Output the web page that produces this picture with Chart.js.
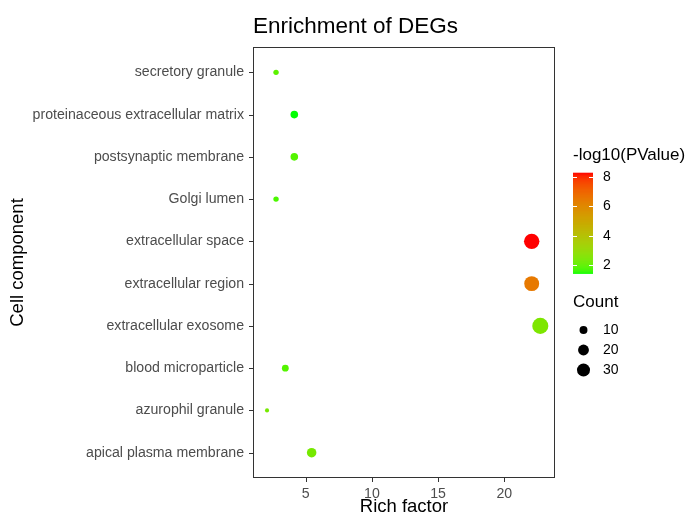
<!DOCTYPE html>
<html>
<head>
<meta charset="utf-8">
<script src="https://cdn.jsdelivr.net/npm/chart.js@4.4.0/dist/chart.umd.min.js"></script>
<style>
  body { margin: 0; background: #fff; }
  #wrap { width: 697px; height: 522px; }
</style>
</head>
<body>
<div id="wrap"><canvas id="dotChart" width="697" height="522"></canvas></div>
<script>
// GO terms, top to bottom
var terms = ['secretory granule', 'proteinaceous extracellular matrix', 'postsynaptic membrane', 'Golgi lumen',
  'extracellular space', 'extracellular region', 'extracellular exosome', 'blood microparticle',
  'azurophil granule', 'apical plasma membrane'];
var richFactor = [2.76, 4.14, 4.14, 2.76, 22.07, 22.07, 22.72, 3.46, 2.08, 5.45];
var geneCount = [4, 9, 9, 4, 43, 40, 47, 7, 2, 15];
var logP = [2.0, 1.44, 1.9, 1.8, 8.27, 6.5, 2.53, 1.9, 2.4, 2.4];
var xTicks = [5, 10, 15, 20];
var colorTicks = [2, 4, 6, 8];
var countTicks = [10, 20, 30];

var FONT = '"Liberation Sans", Arial, sans-serif';

// --- colour scale: green -> red, interpolated in Lab like ggplot ---
function toLin(c) { c /= 255; return c <= 0.04045 ? c / 12.92 : Math.pow((c + 0.055) / 1.055, 2.4); }
function fromLin(c) { var v = c <= 0.0031308 ? 12.92 * c : 1.055 * Math.pow(c, 1 / 2.4) - 0.055; return Math.max(0, Math.min(255, Math.round(v * 255))); }
function rgbToLab(r, g, b) {
  r = toLin(r); g = toLin(g); b = toLin(b);
  var x = (0.4124 * r + 0.3576 * g + 0.1805 * b) / 0.95047;
  var y = (0.2126 * r + 0.7152 * g + 0.0722 * b);
  var z = (0.0193 * r + 0.1192 * g + 0.9505 * b) / 1.08883;
  var f = function (t) { return t > 0.008856 ? Math.cbrt(t) : 7.787 * t + 16 / 116; };
  var fx = f(x), fy = f(y), fz = f(z);
  return [116 * fy - 16, 500 * (fx - fy), 200 * (fy - fz)];
}
function labToRgb(L, a, b) {
  var fy = (L + 16) / 116, fx = fy + a / 500, fz = fy - b / 200;
  var inv = function (t) { return t * t * t > 0.008856 ? t * t * t : (t - 16 / 116) / 7.787; };
  var x = inv(fx) * 0.95047, y = inv(fy), z = inv(fz) * 1.08883;
  var r = 3.2406 * x - 1.5372 * y - 0.4986 * z;
  var g = -0.9689 * x + 1.8758 * y + 0.0415 * z;
  var bl = 0.0557 * x - 0.2040 * y + 1.0570 * z;
  return 'rgb(' + fromLin(r) + ',' + fromLin(g) + ',' + fromLin(bl) + ')';
}
var labLow = rgbToLab(0, 255, 0), labHigh = rgbToLab(255, 0, 0);
var pMin = Math.min.apply(null, logP), pMax = Math.max.apply(null, logP);
function colorFor(v) {
  var t = (v - pMin) / (pMax - pMin);
  return labToRgb(labLow[0] + t * (labHigh[0] - labLow[0]),
                  labLow[1] + t * (labHigh[1] - labLow[1]),
                  labLow[2] + t * (labHigh[2] - labLow[2]));
}
// point size from count (diameter in px)
function diamFor(c) { return 1.0 + 2.2 * Math.sqrt(c); }

var points = terms.map(function (t, i) {
  return { x: richFactor[i], y: i, r: diamFor(geneCount[i]) / 2 };
});

// title, panel frame, tick marks and the two legends
var extras = {
  id: 'extras',
  afterDraw: function (chart) {
    var ctx = chart.ctx, a = chart.chartArea;
    var L = Math.round(a.left), T = Math.round(a.top), R = Math.round(a.right), B = Math.round(a.bottom);
    ctx.save();
    ctx.strokeStyle = '#333333';
    ctx.lineWidth = 1;
    ctx.strokeRect(L + 0.5, T + 0.5, R - L - 1, B - T - 1);

    // tick marks
    ctx.beginPath();
    xTicks.forEach(function (v) {
      var px = Math.round(chart.scales.x.getPixelForValue(v)) + 0.5;
      ctx.moveTo(px, B); ctx.lineTo(px, B + 4);
    });
    terms.forEach(function (t, i) {
      var py = Math.round(chart.scales.y.getPixelForValue(i)) + 0.5;
      ctx.moveTo(L, py); ctx.lineTo(L - 4, py);
    });
    ctx.stroke();

    ctx.fillStyle = '#000';
    ctx.font = '22.5px ' + FONT;
    ctx.textBaseline = 'alphabetic';
    ctx.textAlign = 'left';
    ctx.fillText('Enrichment of DEGs', 253, 33);

    // colour bar
    var bx = 573, bw = 20, bTop = 172.7, bBot = 273.3;
    ctx.font = '17px ' + FONT;
    ctx.textBaseline = 'middle';
    ctx.fillText('-log10(PValue)', 573, 155);
    var steps = 100;
    for (var s = 0; s < steps; s++) {
      var v = pMin + (pMax - pMin) * (s + 0.5) / steps;
      ctx.fillStyle = colorFor(v);
      var y0 = bBot - (bBot - bTop) * (s + 1) / steps;
      ctx.fillRect(bx, y0, bw, (bBot - bTop) / steps + 0.6);
    }
    ctx.font = '14px ' + FONT;
    colorTicks.forEach(function (v) {
      var y = Math.round(bBot - (v - pMin) / (pMax - pMin) * (bBot - bTop)) + 0.5;
      ctx.strokeStyle = '#ffffff';
      ctx.beginPath();
      ctx.moveTo(bx, y); ctx.lineTo(bx + 4, y);
      ctx.moveTo(bx + bw - 4, y); ctx.lineTo(bx + bw, y);
      ctx.stroke();
      ctx.fillStyle = '#000';
      ctx.fillText(String(v), 603, y);
    });

    // size legend
    ctx.font = '17px ' + FONT;
    ctx.fillText('Count', 573, 302.5);
    ctx.font = '14px ' + FONT;
    countTicks.forEach(function (c, i) {
      var cy = 330 + i * 20;
      ctx.beginPath();
      ctx.arc(583.5, cy, diamFor(c) / 2, 0, Math.PI * 2);
      ctx.fill();
      ctx.fillText(String(c), 603, cy + 0.5);
    });
    ctx.restore();
  }
};

var hiddenGrid = { drawOnChartArea: false, drawTicks: true, tickLength: 4, color: 'rgba(0,0,0,0)' };

var ctx = document.getElementById('dotChart').getContext('2d');
var dotChart = new Chart(ctx, {
  type: 'bubble',
  data: {
    datasets: [{
      data: points,
      backgroundColor: logP.map(colorFor),
      borderWidth: 0,
      hoverBorderWidth: 0
    }]
  },
  options: {
    responsive: false,
    animation: false,
    layout: { padding: { top: 47, right: 142, left: 0, bottom: 0 } },
    plugins: { legend: { display: false }, tooltip: { enabled: false } },
    scales: {
      x: {
        type: 'linear',
        min: 1.02,
        max: 23.83,
        afterBuildTicks: function (scale) { scale.ticks = xTicks.map(function (v) { return { value: v }; }); },
        afterFit: function (scale) { scale.height = 44; },
        grid: hiddenGrid,
        border: { display: false },
        ticks: { color: '#4d4d4d', font: { family: FONT, size: 14.15 }, padding: 4, maxRotation: 0 },
        title: { display: true, text: 'Rich factor', color: '#000', font: { family: FONT, size: 18.5 }, padding: { top: 0, bottom: 4 } }
      },
      y: {
        type: 'linear',
        reverse: true,
        min: -0.6,
        max: 9.6,
        afterBuildTicks: function (scale) { scale.ticks = terms.map(function (t, i) { return { value: i }; }); },
        afterFit: function (scale) { scale.width = 253; },
        grid: hiddenGrid,
        border: { display: false },
        ticks: {
          color: '#4d4d4d', font: { family: FONT, size: 14.15 }, padding: 5,
          callback: function (v) { return terms[v]; }
        },
        title: { display: true, text: 'Cell component', color: '#000', font: { family: FONT, size: 18.5 }, padding: { top: 7, bottom: 0 } }
      }
    }
  },
  plugins: [extras]
});
</script>
</body>
</html>
